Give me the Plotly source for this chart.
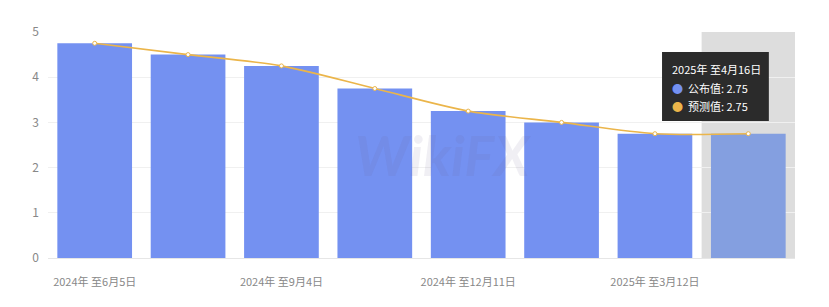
import plotly.graph_objects as go

categories = ["2024年 至6月5日", "2024年 至7月24日", "2024年 至9月4日", "2024年 至10月23日",
              "2024年 至12月11日", "2025年 至1月29日", "2025年 至3月12日", "2025年 至4月16日"]
published = [4.75, 4.5, 4.25, 3.75, 3.25, 3.0, 2.75, 2.75]
forecast = [4.75, 4.5, 4.25, 3.75, 3.25, 3.0, 2.75, 2.75]
shown_ticks = [categories[i] for i in (0, 2, 4, 6)]
y_ticks = [0, 1, 2, 3, 4, 5]

FONT = "Noto Sans CJK SC, Noto Sans, sans-serif"
BAR = "#7491f1"
LINE = "#ebb54a"
bar_colors = [BAR] * (len(categories) - 1) + ["#849fe0"]

fig = go.Figure()
fig.add_trace(go.Bar(x=categories, y=published, marker=dict(color=bar_colors, line=dict(width=0)),
                     name="公布值", width=0.8))
fig.add_trace(go.Scatter(x=categories, y=forecast, mode="lines+markers", name="预测值",
                         line=dict(color=LINE, width=1.6, shape="spline", smoothing=0.8),
                         marker=dict(size=4, color="#ffffff", line=dict(color=LINE, width=1))))

# hover highlight band on last category
fig.add_shape(type="rect", xref="x", yref="paper", x0=len(categories) - 1.5, x1=len(categories) - 0.5,
              y0=0, y1=1, fillcolor="#dddddd", line=dict(width=0), layer="below")

# watermark
fig.add_annotation(text="<b><i>WikiFX</i></b>", x=0.53, y=0.30, xref="paper", yref="paper", showarrow=False,
                   font=dict(size=56, color="rgba(110,100,150,0.10)", family="Lato"))

# tooltip box
fig.add_shape(type="rect", xref="paper", yref="paper", x0=0.822, x1=0.965, y0=0.606, y1=0.912,
              fillcolor="#2b2b2b", line=dict(width=0), layer="above")
tip_lines = [
    ("2025年 至4月16日", 0.836),
    (f"<span style='color:{BAR}'>●</span>  公布值: {published[-1]:.2f}", 0.752),
    (f"<span style='color:{LINE}'>●</span>  预测值: {forecast[-1]:.2f}", 0.673),
]
for txt, yy in tip_lines:
    fig.add_annotation(text=txt, xref="paper", yref="paper", x=0.832, y=yy, xanchor="left", yanchor="middle",
                       showarrow=False, align="left", font=dict(color="#ffffff", size=11, family=FONT))

fig.update_layout(
    width=829, height=307, margin=dict(l=48, r=34, t=32, b=49),
    plot_bgcolor="#ffffff", paper_bgcolor="#ffffff", showlegend=False, bargap=0.2,
    font=dict(family=FONT, size=11, color="#888888"),
)
fig.update_xaxes(type="category", tickvals=shown_ticks, ticktext=shown_ticks, showgrid=False,
                 showline=True, linecolor="#e6e6e6", ticks="", tickfont=dict(size=11, color="#888888"),
                 ticklabelstandoff=14)
fig.update_yaxes(range=[0, 5], tickvals=y_ticks, showgrid=True, gridcolor="#f0f0f0", zeroline=False,
                 ticks="", tickfont=dict(size=12, color="#888888"), ticklabelstandoff=8)

fig.write_html("out.html")
